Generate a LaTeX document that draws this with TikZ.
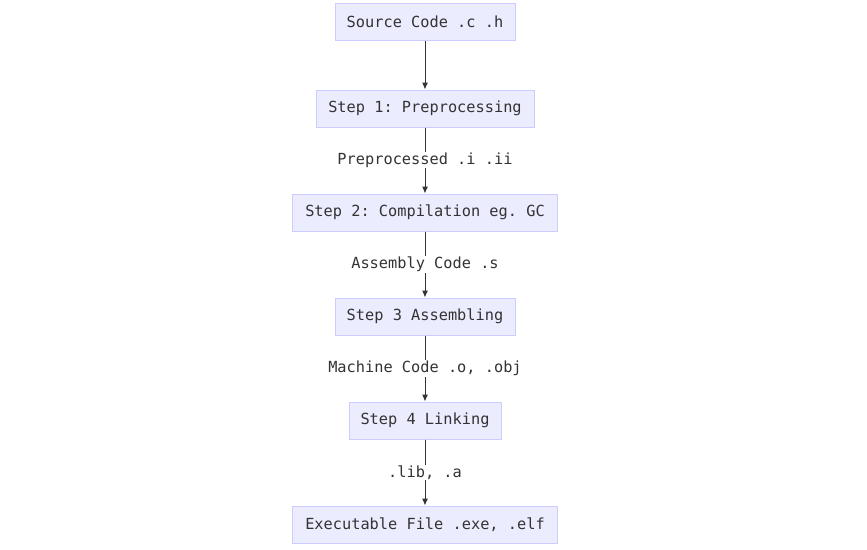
\documentclass[tikz,border=0pt]{standalone}
\usepackage{fontspec}
\setmonofont{DejaVu Sans Mono}
\usetikzlibrary{arrows.meta}
\definecolor{boxfill}{HTML}{ECECFF}
\definecolor{boxdraw}{HTML}{CCCCFF}
\definecolor{txt}{HTML}{333333}
\tikzset{
  stepbox/.style={draw=boxdraw, fill=boxfill, line width=1pt, minimum height=37pt, inner sep=0pt,
    font=\ttfamily\fontsize{15.3}{18}\selectfont, text=txt},
  edgelabel/.style={fill=white, inner sep=1pt, font=\ttfamily\fontsize{15.3}{18}\selectfont, text=txt},
  flow/.style={draw=txt, line width=1pt, -{Latex[length=7pt,width=6pt]}}
}
\begin{document}
\begin{tikzpicture}[x=1pt,y=-1pt]
\useasboundingbox (0,0) rectangle (867,549);
\node[stepbox, minimum width=180pt] (src) at (425,21.5) {Source Code .c .h};
\node[stepbox, minimum width=218pt] (s1) at (425,108.5) {Step 1: Preprocessing};
\node[stepbox, minimum width=265pt] (s2) at (425,212.5) {Step 2: Compilation eg. GC};
\node[stepbox, minimum width=180pt] (s3) at (425,316.5) {Step 3 Assembling};
\node[stepbox, minimum width=152pt] (s4) at (425,420.5) {Step 4 Linking};
\node[stepbox, minimum width=265pt] (exe) at (425,524.5) {Executable File .exe, .elf};
\draw[flow] (src) -- (s1);
\draw[flow] (s1) -- (s2);
\draw[flow] (s2) -- (s3);
\draw[flow] (s3) -- (s4);
\draw[flow] (s4) -- (exe);
\node[edgelabel] (l1) at (425,160) {Preprocessed .i .ii};
\node[edgelabel] (l2) at (425,264.5) {Assembly Code .s};
\node[edgelabel] (l3) at (425,368.5) {Machine Code .o, .obj};
\node[edgelabel] (l4) at (425,472.5) {.lib, .a};
\end{tikzpicture}
\end{document}
